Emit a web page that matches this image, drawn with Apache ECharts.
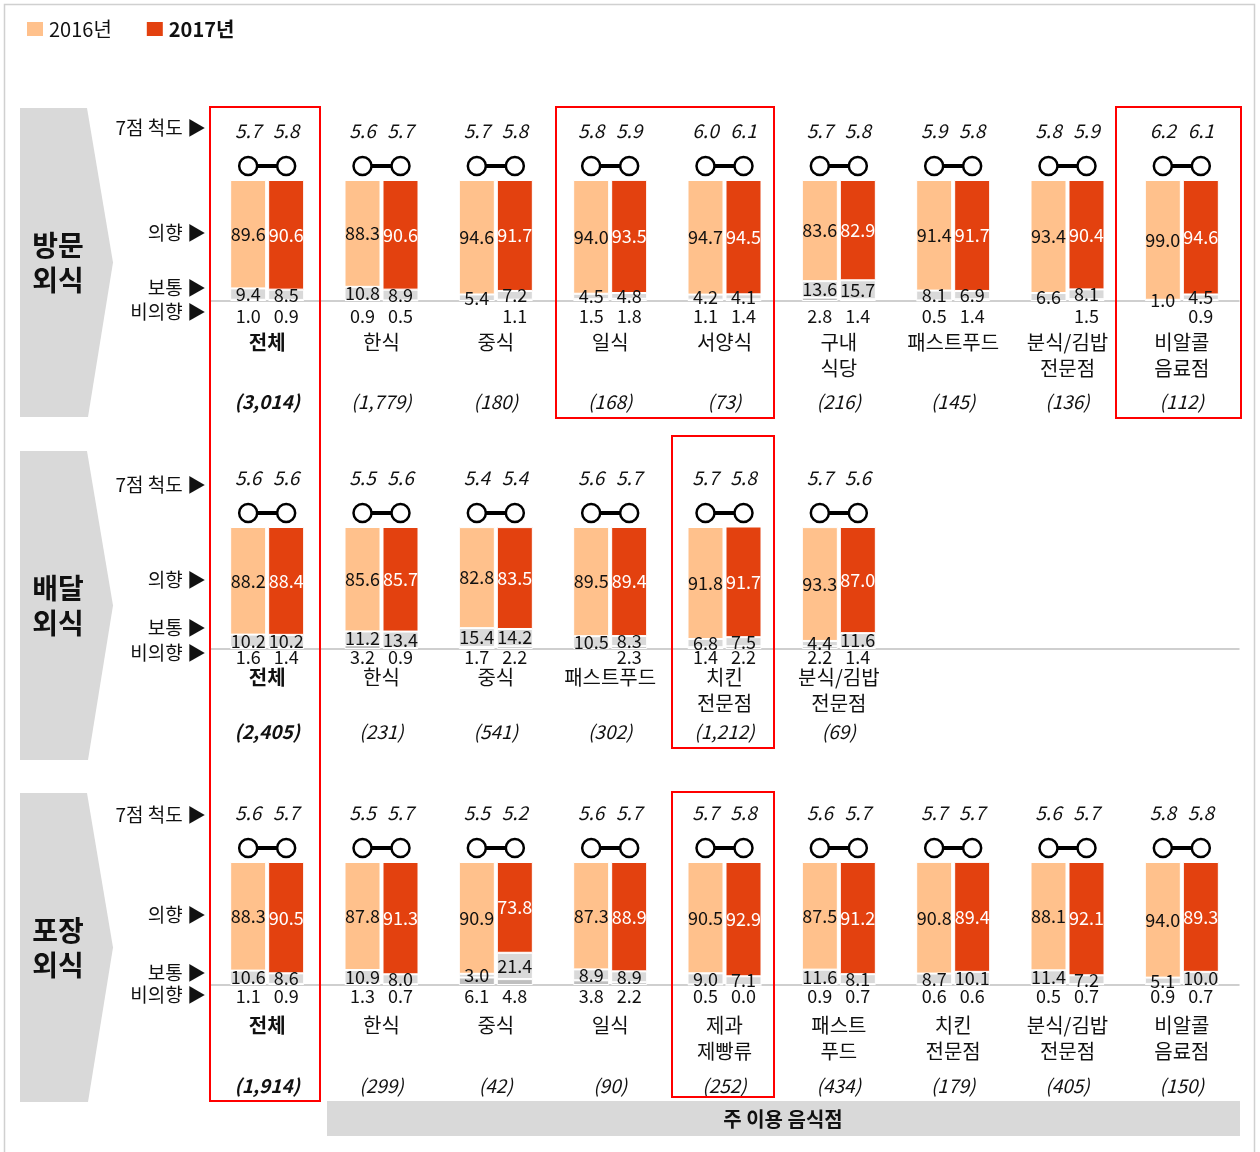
<!DOCTYPE html>
<html><head><meta charset="utf-8">
<script src="https://cdn.jsdelivr.net/npm/echarts@6/dist/echarts.min.js"></script>
<style>html,body{margin:0;padding:0;background:#fff}#c{width:1260px;height:1152px}</style>
</head><body><div id="c"></div>
<script>
// ---------- DATA ----------
// 방문외식
const cats1 = ['전체','한식','중식','일식','서양식','구내\n식당','패스트푸드','분식/김밥\n전문점','비알콜\n음료점'];
const n1 = ['(3,014)','(1,779)','(180)','(168)','(73)','(216)','(145)','(136)','(112)'];
const scale16_1 = [5.7,5.6,5.7,5.8,6.0,5.7,5.9,5.8,6.2];
const scale17_1 = [5.8,5.7,5.8,5.9,6.1,5.8,5.8,5.9,6.1];
const will16_1 = [89.6,88.3,94.6,94.0,94.7,83.6,91.4,93.4,99.0];
const norm16_1 = [9.4,10.8,5.4,4.5,4.2,13.6,8.1,6.6,1.0];
const non16_1  = [1.0,0.9,null,1.5,1.1,2.8,0.5,null,null];
const will17_1 = [90.6,90.6,91.7,93.5,94.5,82.9,91.7,90.4,94.6];
const norm17_1 = [8.5,8.9,7.2,4.8,4.1,15.7,6.9,8.1,4.5];
const non17_1  = [0.9,0.5,1.1,1.8,1.4,1.4,1.4,1.5,0.9];

// 배달외식
const cats2 = ['전체','한식','중식','패스트푸드','치킨\n전문점','분식/김밥\n전문점'];
const n2 = ['(2,405)','(231)','(541)','(302)','(1,212)','(69)'];
const scale16_2 = [5.6,5.5,5.4,5.6,5.7,5.7];
const scale17_2 = [5.6,5.6,5.4,5.7,5.8,5.6];
const will16_2 = [88.2,85.6,82.8,89.5,91.8,93.3];
const norm16_2 = [10.2,11.2,15.4,10.5,6.8,4.4];
const non16_2  = [1.6,3.2,1.7,null,1.4,2.2];
const will17_2 = [88.4,85.7,83.5,89.4,91.7,87.0];
const norm17_2 = [10.2,13.4,14.2,8.3,7.5,11.6];
const non17_2  = [1.4,0.9,2.2,2.3,2.2,1.4];

// 포장외식
const cats3 = ['전체','한식','중식','일식','제과\n제빵류','패스트\n푸드','치킨\n전문점','분식/김밥\n전문점','비알콜\n음료점'];
const n3 = ['(1,914)','(299)','(42)','(90)','(252)','(434)','(179)','(405)','(150)'];
const scale16_3 = [5.6,5.5,5.5,5.6,5.7,5.6,5.7,5.6,5.8];
const scale17_3 = [5.7,5.7,5.2,5.7,5.8,5.7,5.7,5.7,5.8];
const will16_3 = [88.3,87.8,90.9,87.3,90.5,87.5,90.8,88.1,94.0];
const norm16_3 = [10.6,10.9,3.0,8.9,9.0,11.6,8.7,11.4,5.1];
const non16_3  = [1.1,1.3,6.1,3.8,0.5,0.9,0.6,0.5,0.9];
const will17_3 = [90.5,91.3,73.8,88.9,92.9,91.2,89.4,92.1,89.3];
const norm17_3 = [8.6,8.0,21.4,8.9,7.1,8.1,10.1,7.2,10.0];
const non17_3  = [0.9,0.7,4.8,2.2,0.0,0.7,0.6,0.7,0.7];

const panelNames = ['방문\n외식','배달\n외식','포장\n외식'];
const rowLabels = ['7점 척도 ▶','의향 ▶','보통 ▶','비의향 ▶'];
const years = ['2016년','2017년'];
const footerLabel = '주 이용 음식점';

// ---------- STYLE / LAYOUT ----------
const FONT = '"Noto Sans CJK KR","Noto Sans",sans-serif';
const C16 = '#FFC18C', C17 = '#E3410F', CNORM = '#D9D9D9', CNON = '#BFBFBF';
const BAR_W = 36, BAR_GAP = 2, SLOTS = 9;
const GRID_LEFT = 210, GRID_W = 1029;
const panels = [
  {cats:cats1,n:n1,s16:scale16_1,s17:scale17_1,w16:will16_1,m16:norm16_1,x16:non16_1,w17:will17_1,m17:norm17_1,x17:non17_1,
   top:180,h:121,catMargin:26,nMargin:86,nonDist:6,chev:[108,417],rows:[128,233,288,312]},
  {cats:cats2,n:n2,s16:scale16_2,s17:scale17_2,w16:will16_2,m16:norm16_2,x16:non16_2,w17:will17_2,m17:norm17_2,x17:non17_2,
   top:527,h:122,catMargin:13,nMargin:68,nonDist:-1,chev:[451,760],rows:[485,580,628,653]},
  {cats:cats3,n:n3,s16:scale16_3,s17:scale17_3,w16:will16_3,m16:norm16_3,x16:non16_3,w17:will17_3,m17:norm17_3,x17:non17_3,
   top:862,h:123,catMargin:25,nMargin:86,nonDist:2,chev:[793,1102],rows:[815,915,973,995]}
];

function pad(arr, fill){ const a = arr.slice(); while(a.length < SLOTS) a.push(fill); return a; }
const fmt1 = p => (p.value == null ? '' : Number(p.value).toFixed(1));

const grid=[], xAxis=[], yAxis=[], series=[], graphic=[];
panels.forEach((p, k) => {
  grid.push({left:GRID_LEFT, width:GRID_W, top:p.top, height:p.h});
  const catsP = pad(p.cats, '');
  const nP = pad(p.n, '');
  xAxis.push({type:'category', gridIndex:k, data:catsP, offset:2,
    axisLine:{show:true, lineStyle:{color:'#C0C0C0', width:1.5}}, axisTick:{show:false},
    axisLabel:{interval:0, margin:p.catMargin, fontSize:20, lineHeight:26, color:'#111', fontFamily:FONT,
      formatter:(v,i)=> i===0 ? '{b|'+v+'}' : v,
      rich:{b:{fontWeight:'bold', fontSize:20, lineHeight:26, color:'#111', fontFamily:FONT}}}});
  xAxis.push({type:'category', gridIndex:k, data:nP, offset:2, position:'bottom',
    axisLine:{show:false}, axisTick:{show:false},
    axisLabel:{interval:0, margin:p.nMargin, fontSize:19, lineHeight:26, color:'#111', fontFamily:FONT, fontStyle:'italic',
      formatter:(v,i)=> i===0 ? '{b|'+v+'}' : v,
      rich:{b:{fontWeight:'bold', fontStyle:'italic', fontSize:19, color:'#111', fontFamily:FONT}}}});
  yAxis.push({type:'value', gridIndex:k, min:0, max:100, show:false, splitLine:{show:false}});
  const xi = k*2;
  const lblBase = {fontSize:18, fontFamily:FONT, color:'#111', formatter:fmt1};
  const mk = (name, stack, data, color, label) => ({
    type:'bar', name, stack, xAxisIndex:xi, yAxisIndex:k, data:pad(data,null),
    barWidth:BAR_W, barGap:(BAR_GAP/BAR_W*100)+'%', itemStyle:{color, borderColor:'#fff', borderWidth:1},
    label:Object.assign({show:true}, lblBase, label), emphasis:{disabled:true}, animation:false, z:2});
  series.push(mk('비의향','y16_'+k,p.x16,CNON,{position:'bottom',distance:p.nonDist}));
  series.push(mk('보통','y16_'+k,p.m16,CNORM,{position:'inside'}));
  series.push(mk(years[0],'y16_'+k,p.w16,C16,{position:'inside'}));
  series.push(mk('비의향','y17_'+k,p.x17,CNON,{position:'bottom',distance:p.nonDist}));
  series.push(mk('보통','y17_'+k,p.m17,CNORM,{position:'inside'}));
  series.push(mk(years[1],'y17_'+k,p.w17,C17,{position:'inside', color:'#fff'}));
  // dumbbell + 7점 척도
  series.push({type:'custom', xAxisIndex:xi, yAxisIndex:k, clip:false, animation:false, silent:true, z:5,
    data:p.cats.map((c,i)=>[i, p.s16[i], p.s17[i]]),
    renderItem:(params, api)=>{
      const top = api.coord([api.value(0), 100]);
      const off = (BAR_W + BAR_GAP)/2;
      const cx = top[0], cy = top[1]-14, ty = top[1]-49;
      const txt = (x, v) => ({type:'text', x, y:ty, style:{text:Number(v).toFixed(1), fill:'#111', fontSize:19,
        fontStyle:'italic', fontFamily:FONT, align:'center', verticalAlign:'middle'}});
      return {type:'group', children:[
        {type:'line', shape:{x1:cx-off, y1:cy, x2:cx+off, y2:cy}, style:{stroke:'#000', lineWidth:4}},
        {type:'circle', shape:{cx:cx-off, cy, r:9}, style:{fill:'#fff', stroke:'#000', lineWidth:2.5}},
        {type:'circle', shape:{cx:cx+off, cy, r:9}, style:{fill:'#fff', stroke:'#000', lineWidth:2.5}},
        txt(cx-off, api.value(1)), txt(cx+off, api.value(2))
      ]};
    }});
  // chevron
  const [t,b] = p.chev, mid = (t+b)/2;
  graphic.push({type:'polygon', shape:{points:[[20,t],[87,t],[113,mid],[88,b],[20,b]]}, style:{fill:'#D9D9D9'}, z:0});
  graphic.push({type:'text', x:58, y:mid, style:{text:panelNames[k], fontSize:28, fontWeight:'bold', lineHeight:35,
    fontFamily:FONT, fill:'#111', align:'center', verticalAlign:'middle'}});
  p.rows.forEach((y, r) => graphic.push({type:'text', x:206, y, style:{text:rowLabels[r], fontSize:19, fontFamily:FONT,
    fill:'#111', align:'right', verticalAlign:'middle'}}));
});

// frame, footer, highlight boxes
graphic.push({type:'rect', shape:{x:4.5, y:4.5, width:1250, height:1160}, style:{fill:'none', stroke:'#D0D0D0', lineWidth:1.5}, z:0});
graphic.push({type:'rect', shape:{x:327, y:1101, width:913, height:35}, style:{fill:'#D9D9D9'}, z:0});
graphic.push({type:'text', x:783, y:1119, style:{text:footerLabel, fontSize:20, fontWeight:'bold', fontFamily:FONT,
  fill:'#111', align:'center', verticalAlign:'middle'}});
[[210,107,110,994],[556,107,218,311],[1116,107,125,311],[672,436,102,312],[672,792,102,305]].forEach(r =>
  graphic.push({type:'rect', shape:{x:r[0], y:r[1], width:r[2], height:r[3]}, style:{fill:'none', stroke:'#FF0000', lineWidth:2}, z:100}));

const chart = echarts.init(document.getElementById('c'), null, {renderer:'canvas'});
chart.setOption({
  animation:false,
  backgroundColor:'#fff',
  textStyle:{fontFamily:FONT},
  legend:{data:years, left:20, top:14, icon:'rect', itemWidth:18, itemHeight:16, itemGap:33, selectedMode:false,
    textStyle:{fontSize:20, color:'#111', fontFamily:FONT, rich:{b:{fontWeight:'bold', fontSize:20, color:'#111', fontFamily:FONT}}},
    formatter:name => name===years[1] ? '{b|'+name+'}' : name},
  grid, xAxis, yAxis, series, graphic
});
</script></body></html>
